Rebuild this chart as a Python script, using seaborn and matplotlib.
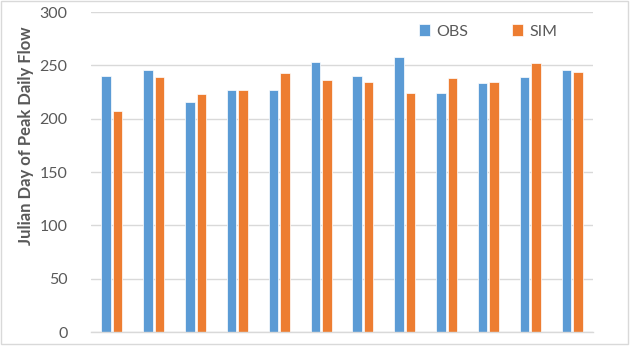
import matplotlib
matplotlib.use("Agg")
import matplotlib.pyplot as plt
from matplotlib.patches import Rectangle
import pandas as pd
import seaborn as sns

# Peak-flow timing per station/year (12 groups)
groups = [str(i) for i in range(1, 13)]
obs_days = [240, 246, 216, 227, 227, 253, 240, 258, 224, 233, 239, 246]
sim_days = [207, 239, 223, 227, 243, 236, 234, 224, 238, 234, 252, 244]
series_names = ["OBS", "SIM"]
y_ticks = [0, 50, 100, 150, 200, 250, 300]

df = pd.DataFrame({
    "group": groups * 2,
    "day": obs_days + sim_days,
    "series": [series_names[0]] * len(groups) + [series_names[1]] * len(groups),
})

sns.set_style("white")
plt.rcParams["font.family"] = ["Lato", "DejaVu Sans"]

text_color = "#595959"
grid_color = "#D9D9D9"
palette = ["#5B9BD5", "#ED7D31"]

W, H = 633, 349
fig = plt.figure(figsize=(W / 100, H / 100), dpi=100)
ax = fig.add_axes([91 / W, 1 - 332 / H, (593 - 91) / W, (332 - 12) / H])

sns.barplot(data=df, x="group", y="day", hue="series", palette=palette,
            saturation=1, width=0.55, gap=0.17, edgecolor="white",
            linewidth=0.5, ax=ax, legend=True)

ax.set_ylim(0, 300)
ax.set_xlim(-0.5, len(groups) - 0.5)
ax.set_yticks(y_ticks)
ax.set_yticklabels([str(t) for t in y_ticks])
ax.set_xticks([])
ax.set_xlabel("")
ax.tick_params(axis="y", length=0, pad=17, labelsize=11.5, labelcolor=text_color)
ax.yaxis.grid(True, color=grid_color, linewidth=1)
ax.set_axisbelow(True)
for side in ["left", "right", "top"]:
    ax.spines[side].set_visible(False)
ax.spines["bottom"].set_color(grid_color)
ax.spines["bottom"].set_linewidth(1)

ax.set_ylabel("Julian Day of Peak Daily Flow", fontsize=12,
              fontweight="bold", color=text_color)
ax.yaxis.set_label_coords(-0.114, 0.6125)

handles, labels = ax.get_legend_handles_labels()
ax.legend_.remove()
fig.legend(handles, labels, loc="center left",
           bbox_to_anchor=(419 / W, 1 - 31.5 / H), ncol=2, frameon=False,
           fontsize=11.5, labelcolor=text_color, borderpad=0,
           borderaxespad=0, handlelength=0.7, handleheight=0.7,
           handletextpad=0.4, columnspacing=2.7)

# Thin frame around the whole chart
fig.patches.append(Rectangle((0.5 / W, 1 - 344 / H), 627.5 / W, 343.5 / H,
                             transform=fig.transFigure, fill=False,
                             edgecolor=grid_color, linewidth=1))

fig.savefig("out.png", dpi=100)
